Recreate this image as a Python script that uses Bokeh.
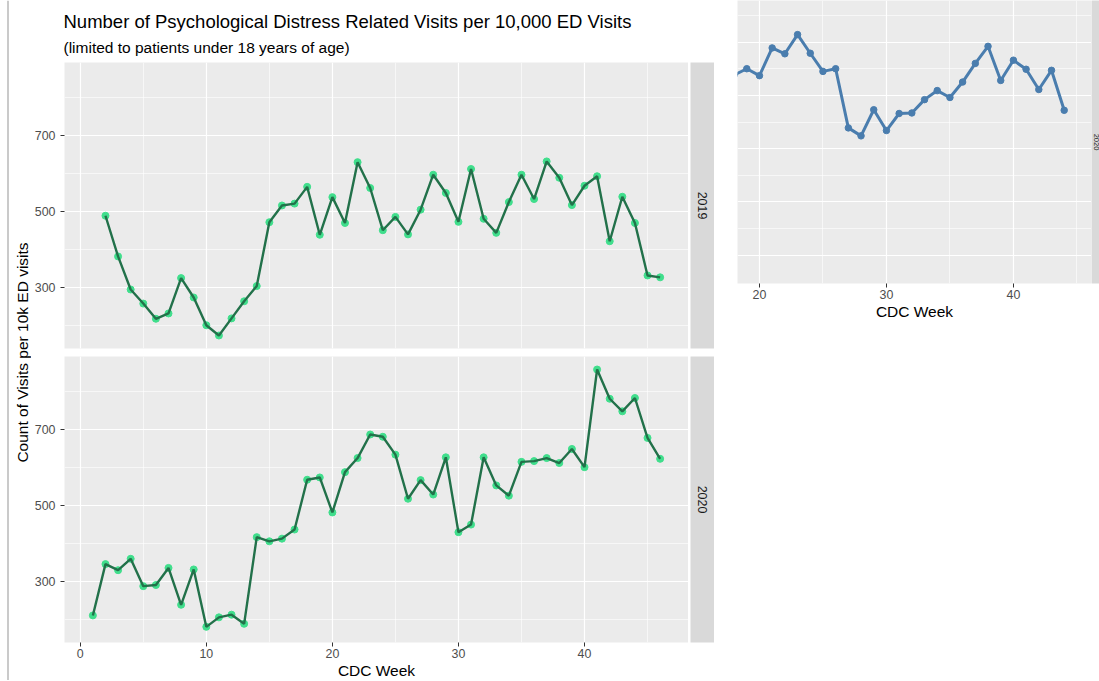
from bokeh.plotting import figure
from bokeh.layouts import row, column
from bokeh.models import Range1d, FixedTicker, SingleIntervalTicker, Label, Span
from bokeh.embed import file_html
from bokeh.resources import INLINE

FONT = "Liberation Sans"

# ---------------- data ----------------
title_text = "Number of Psychological Distress Related Visits per 10,000 ED Visits"
subtitle_text = "(limited to patients under 18 years of age)"
y_label = "Count of Visits per 10k ED visits"
x_label = "CDC Week"
facet_labels = ["2019", "2020"]

weeks_2019 = list(range(2, 47))
visits_2019 = [489, 382, 295, 258, 218, 232, 325, 274, 201, 174, 219, 264, 304, 472,
               516, 521, 565, 439, 538, 470, 630, 562, 451, 486, 440, 505, 597, 549,
               473, 612, 481, 444, 525, 597, 533, 632, 589, 517, 568, 593, 422, 539,
               470, 332, 327]

weeks_2020 = list(range(1, 47))
visits_2020 = [211, 346, 330, 360, 288, 291, 336, 239, 332, 181, 206, 213, 189, 417,
               406, 413, 437, 568, 574, 482, 588, 625, 687, 681, 634, 518, 567, 529,
               627, 430, 450, 627, 553, 526, 615, 617, 625, 612, 649, 601, 858, 781,
               748, 783, 678, 623]

x_ticks = [0, 10, 20, 30, 40]
y_ticks = [300, 500, 700]
y_minor_ticks = [200, 400, 600, 800]

# cropped second chart (right, blue) - visible weeks only, no y scale shown
inset_weeks = list(range(18, 45))
inset_values = [538, 550, 537, 589, 578, 614, 579, 545, 550, 439, 424, 473, 434, 466,
                467, 492, 509, 496, 525, 560, 592, 528, 566, 549, 511, 547, 472]
inset_x_ticks = [20, 30, 40]
inset_y_grid = [200, 300, 400, 500, 600]
inset_y_minor = [250, 350, 450, 550, 650]
inset_facet = "2020"

# ---------------- style ----------------
PANEL_BG = "#EBEBEB"
STRIP_BG = "#D9D9D9"
LINE_GREEN = "#22714A"
POINT_GREEN = "#40DE8C"
BLUE = "#4A7DAE"
TICK_COL = "#4D4D4D"

all_w = weeks_2019 + weeks_2020
all_v = visits_2019 + visits_2020
wpad = 0.05 * (max(all_w) - min(all_w))
vpad = 0.05 * (max(all_v) - min(all_v))
x_rng = (min(all_w) - wpad, max(all_w) + wpad)
y_rng = (min(all_v) - vpad, max(all_v) + vpad)

FW, FH = 624, 286
GAP = 8
BOTTOM = 38
HH = 62


def style_panel(p, yticks, yminor, xtick_interval=10):
    p.background_fill_color = PANEL_BG
    p.border_fill_color = "white"
    p.outline_line_color = None
    p.xgrid.ticker = SingleIntervalTicker(interval=xtick_interval, num_minor_ticks=2)
    p.ygrid.ticker = FixedTicker(ticks=yticks, minor_ticks=yminor)
    for g in (p.xgrid, p.ygrid):
        g.grid_line_color = "white"
        g.grid_line_width = 1.2
        g.minor_grid_line_color = "white"
        g.minor_grid_line_width = 0.6


def style_axis(ax):
    ax.axis_line_color = None
    ax.major_tick_line_color = "#333333"
    ax.major_tick_out = 4
    ax.major_tick_in = 0
    ax.minor_tick_line_color = None
    ax.major_label_text_font = FONT
    ax.major_label_text_font_size = "12.4px"
    ax.major_label_text_color = TICK_COL
    ax.axis_label_text_font = FONT
    ax.axis_label_text_font_size = "15.5px"
    ax.axis_label_text_font_style = "normal"
    ax.axis_label_text_color = "black"


def blank(p):
    p.background_fill_color = "white"
    p.border_fill_color = "white"
    p.outline_line_color = None
    p.grid.visible = False


def panel(weeks, vals, bottom_axis):
    p = figure(frame_width=FW, frame_height=FH, x_range=Range1d(*x_rng), y_range=Range1d(*y_rng),
               x_axis_location="below" if bottom_axis else None,
               min_border=0, min_border_left=32, min_border_right=0, min_border_top=0,
               min_border_bottom=BOTTOM if bottom_axis else GAP,
               toolbar_location=None, output_backend="svg")
    style_panel(p, y_ticks, y_minor_ticks)
    p.yaxis.ticker = FixedTicker(ticks=y_ticks)
    style_axis(p.yaxis[0])
    p.yaxis.major_label_standoff = 5
    if bottom_axis:
        p.xaxis.ticker = FixedTicker(ticks=x_ticks)
        style_axis(p.xaxis[0])
        p.xaxis.major_label_standoff = 2
        p.xaxis.axis_label = x_label
        p.xaxis.axis_label_standoff = 1
    p.scatter(weeks, vals, size=7, color=POINT_GREEN)
    p.line(weeks, vals, line_color=LINE_GREEN, line_width=2.4)
    return p


def strip(label, width, fh, bottom, font_size="12.4px"):
    s = figure(frame_width=width, frame_height=fh, x_range=Range1d(0, 1), y_range=Range1d(0, 1),
               x_axis_location=None, y_axis_location=None,
               min_border=0, min_border_left=2 if width > 10 else 0, min_border_right=0,
               min_border_top=0, min_border_bottom=bottom,
               toolbar_location=None, output_backend="svg")
    blank(s)
    s.background_fill_color = STRIP_BG
    s.add_layout(Label(x=0.5, y=0.5, text=label, angle=-90, angle_units="deg",
                       text_align="center", text_baseline="middle", text_font=FONT,
                       text_font_size=font_size, text_color="#1A1A1A"))
    return s


p1 = panel(weeks_2019, visits_2019, False)
p2 = panel(weeks_2020, visits_2020, True)
s1 = strip(facet_labels[0], 24, FH, GAP)
s2 = strip(facet_labels[1], 24, FH, BOTTOM)

# header with title / subtitle
HW = 32 + FW + 26
header = figure(frame_width=HW, frame_height=HH, x_range=Range1d(0, HW), y_range=Range1d(0, HH),
                x_axis_location=None, y_axis_location=None, min_border=0,
                toolbar_location=None, output_backend="svg")
blank(header)
header.add_layout(Label(x=32, y=HH - 21, text=title_text, text_font=FONT, text_font_size="18.5px",
                        text_color="black", text_baseline="middle"))
header.add_layout(Label(x=32, y=HH - 47, text=subtitle_text, text_font=FONT, text_font_size="15.5px",
                        text_color="black", text_baseline="middle"))

# y-axis title column
YW = 31
YH = HH + (FH + GAP) + (FH + BOTTOM)
ylab = figure(frame_width=YW, frame_height=YH, x_range=Range1d(0, YW), y_range=Range1d(0, YH),
              x_axis_location=None, y_axis_location=None, min_border=0,
              toolbar_location=None, output_backend="svg")
blank(ylab)
ylab.add_layout(Span(location=7.5, dimension="height", line_color="#BDBDBD", line_width=1.6))
ylab.add_layout(Label(x=22, y=YH - (HH + FH + GAP / 2), text=y_label, angle=90, angle_units="deg",
                      text_align="center", text_baseline="middle", text_font=FONT,
                      text_font_size="15.5px", text_color="black"))

# cropped blue chart on the right
IFH = 283
inset = figure(frame_width=354, frame_height=IFH, x_range=Range1d(18.27, 46.15),
               y_range=Range1d(147, 678), y_axis_location=None,
               min_border=0, min_border_left=23, min_border_right=0, min_border_top=0,
               min_border_bottom=40, toolbar_location=None, output_backend="svg")
style_panel(inset, inset_y_grid, inset_y_minor)
inset.xaxis.ticker = FixedTicker(ticks=inset_x_ticks)
style_axis(inset.xaxis[0])
inset.xaxis.major_label_standoff = 2
inset.xaxis.axis_label = x_label
inset.xaxis.axis_label_standoff = 1
inset.line(inset_weeks, inset_values, line_color=BLUE, line_width=3)
inset.scatter(inset_weeks, inset_values, size=6.5, color=BLUE)

inset_strip = strip(inset_facet, 9, IFH, 40, font_size="7.5px")

layout = row(ylab, column(header, row(p1, s1), row(p2, s2)), inset, inset_strip)

open("out.html", "w").write(file_html(layout, INLINE))
